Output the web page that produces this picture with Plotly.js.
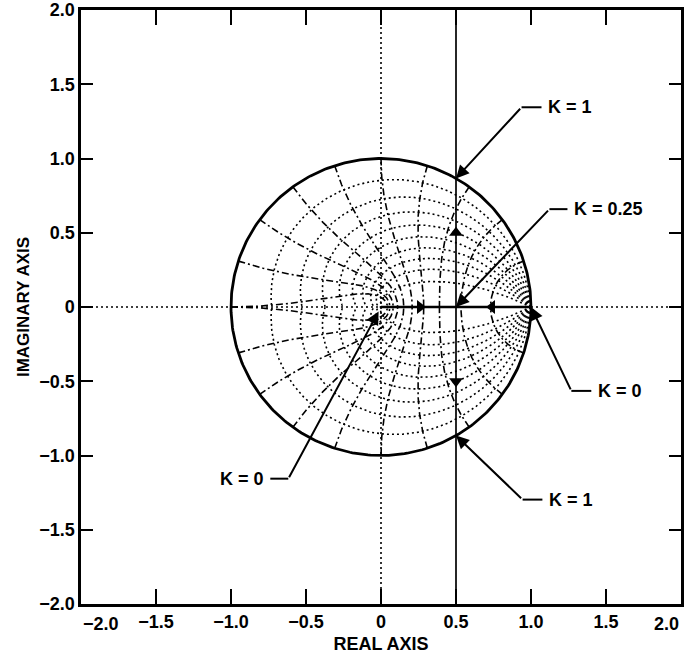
<!DOCTYPE html>
<html>
<head>
<meta charset="utf-8">
<script src="https://cdn.plot.ly/plotly-3.0.1.min.js"></script>
<style>html,body{margin:0;padding:0;background:#fff;}#chart{width:685px;height:663px;}</style>
</head>
<body>
<div id="chart"></div>
<script>
// ---- data ----
const zetaValues = [0.1, 0.2, 0.3, 0.4, 0.5, 0.6, 0.7, 0.8, 0.9];          // constant damping grid
const wnFractions = [0.1, 0.2, 0.3, 0.4, 0.5, 0.6, 0.7, 0.8, 0.9, 1.0];     // constant wn*T grid (x pi)
const locusRealX = [0, 1];
const locusRealY = [0, 0];
const locusVertX = [0.5, 0.5];
const locusVertY = [-2, 2];
const arrowX = [0.26, 0.74, 0.5, 0.5];
const arrowY = [0, 0, 0.5, -0.5];
const arrowSymbols = ['triangle-right', 'triangle-left', 'triangle-up', 'triangle-down'];
const labelTexts = ['K = 1', 'K = 0.25', 'K = 0', 'K = 1', 'K = 0'];
const labelTargetX = [0.5, 0.5, 1.0, 0.5, 0.0];
const labelTargetY = [0.866, 0.0, 0.0, -0.866, 0.0];
const labelBendX = [0.937, 1.123, 1.269, 0.944, -0.618];
const labelBendY = [1.345, 0.659, -0.565, -1.297, -1.156];
const labelEndX = [1.07, 1.243, 1.402, 1.076, -0.738];
const labelSide = ['left', 'left', 'left', 'left', 'right'];
const xTickVals = [-1.5, -1.0, -0.5, 0, 0.5, 1.0, 1.5];
const xTickText = ['\u22121.5', '\u22121.0', '\u22120.5', '0', '0.5', '1.0', '1.5'];
const xEdgeVals = [-2, 2];
const xEdgeText = ['\u22122.0', '2.0'];
const yTickVals = [-2, -1.5, -1, -0.5, 0, 0.5, 1, 1.5, 2];
const yTickText = ['\u22122.0', '\u22121.5', '\u22121.0', '\u22120.5', '0', '0.5', '1.0', '1.5', '2.0'];

const FONT = 'Liberation Sans, Arial, Helvetica, sans-serif';
const TXT = {family: FONT, size: 18, color: '#000', weight: 'bold'};
const traces = [];

// coordinate axes (dotted)
traces.push({x: [-2, 2], y: [0, 0], mode: 'lines', line: {color: '#000', width: 1.6, dash: '2px,3px'}, hoverinfo: 'skip'});
traces.push({x: [0, 0], y: [-2, 2], mode: 'lines', line: {color: '#000', width: 1.6, dash: '2px,3px'}, hoverinfo: 'skip'});

// z-plane grid: constant damping curves
const N = 240;
zetaValues.forEach(function (z) {
  const xs = [], ys = [];
  const k = z / Math.sqrt(1 - z * z);
  for (let s = 1; s >= -1; s -= 2) {
    for (let i = 0; i <= N; i++) {
      const th = Math.PI * i / N;
      const r = Math.exp(-k * th);
      xs.push(r * Math.cos(th)); ys.push(s * r * Math.sin(th));
    }
    xs.push(null); ys.push(null);
  }
  traces.push({x: xs, y: ys, mode: 'lines', line: {color: '#000', width: 1.6, dash: '2px,3px'}, hoverinfo: 'skip'});
});
// constant natural-frequency curves
wnFractions.forEach(function (f) {
  const w = f * Math.PI;
  const xs = [], ys = [];
  for (let s = 1; s >= -1; s -= 2) {
    for (let i = 0; i <= N; i++) {
      const z = i / N;
      const r = Math.exp(-z * w);
      const th = w * Math.sqrt(1 - z * z);
      xs.push(r * Math.cos(th)); ys.push(s * r * Math.sin(th));
    }
    xs.push(null); ys.push(null);
  }
  traces.push({x: xs, y: ys, mode: 'lines', line: {color: '#000', width: 1.6, dash: '7px,3px,2px,3px'}, hoverinfo: 'skip'});
});

// unit circle
(function () {
  const xs = [], ys = [];
  for (let i = 0; i <= 360; i++) { const t = 2 * Math.PI * i / 360; xs.push(Math.cos(t)); ys.push(Math.sin(t)); }
  traces.push({x: xs, y: ys, mode: 'lines', line: {color: '#000', width: 2.8}, hoverinfo: 'skip'});
})();

// root locus
traces.push({x: locusRealX, y: locusRealY, mode: 'lines', line: {color: '#000', width: 2.6}, hoverinfo: 'skip'});
traces.push({x: locusVertX, y: locusVertY, mode: 'lines', line: {color: '#000', width: 1.7}, hoverinfo: 'skip'});
traces.push({x: arrowX, y: arrowY, mode: 'markers', marker: {symbol: arrowSymbols, size: 12, color: '#000'}, hoverinfo: 'skip'});

// leader horizontal segments
labelTexts.forEach(function (t, i) {
  traces.push({x: [labelBendX[i], labelEndX[i]], y: [labelBendY[i], labelBendY[i]], mode: 'lines', line: {color: '#000', width: 2}, hoverinfo: 'skip'});
});

const annotations = [];
labelTexts.forEach(function (t, i) {
  annotations.push({
    x: labelTargetX[i], y: labelTargetY[i], xref: 'x', yref: 'y',
    ax: labelBendX[i], ay: labelBendY[i], axref: 'x', ayref: 'y',
    text: '', showarrow: true, arrowhead: 2, arrowsize: 1.3, arrowwidth: 2, arrowcolor: '#000',
    standoff: i === 4 ? 5 : 0
  });
  annotations.push({
    x: labelEndX[i] + (labelSide[i] === 'left' ? 0.03 : -0.03), y: labelBendY[i], xref: 'x', yref: 'y',
    text: t, showarrow: false, xanchor: labelSide[i], yanchor: 'middle', font: TXT
  });
});
xEdgeVals.forEach(function (v, i) {
  annotations.push({
    x: v, y: 0, xref: 'x', yref: 'paper', yanchor: 'top', yshift: -8,
    xanchor: i === 0 ? 'left' : 'right', text: xEdgeText[i], showarrow: false, font: TXT
  });
});

const axisCommon = {
  showgrid: false, zeroline: false, showline: true, linecolor: '#000', linewidth: 2.6,
  mirror: 'ticks', ticks: 'inside', tickcolor: '#000', tickwidth: 2,
  tickfont: TXT, range: [-2, 2], fixedrange: true
};

const layout = {
  width: 685, height: 663,
  margin: {l: 81, r: 4, t: 10, b: 59},
  paper_bgcolor: '#fff', plot_bgcolor: '#fff',
  showlegend: false,
  xaxis: Object.assign({}, axisCommon, {
    tickmode: 'array', tickvals: xTickVals, ticktext: xTickText, ticklen: 15,
    title: {text: 'REAL AXIS', font: {family: FONT, size: 18, color: '#000', weight: 'bold'}, standoff: 6}
  }),
  yaxis: Object.assign({}, axisCommon, {
    tickmode: 'array', tickvals: yTickVals, ticktext: yTickText, ticklen: 12,
    title: {text: 'IMAGINARY AXIS', font: {family: FONT, size: 17, color: '#000', weight: 'bold'}, standoff: 6}
  }),
  annotations: annotations
};

Plotly.newPlot('chart', traces, layout, {displayModeBar: false, staticPlot: true});
</script>
</body>
</html>
